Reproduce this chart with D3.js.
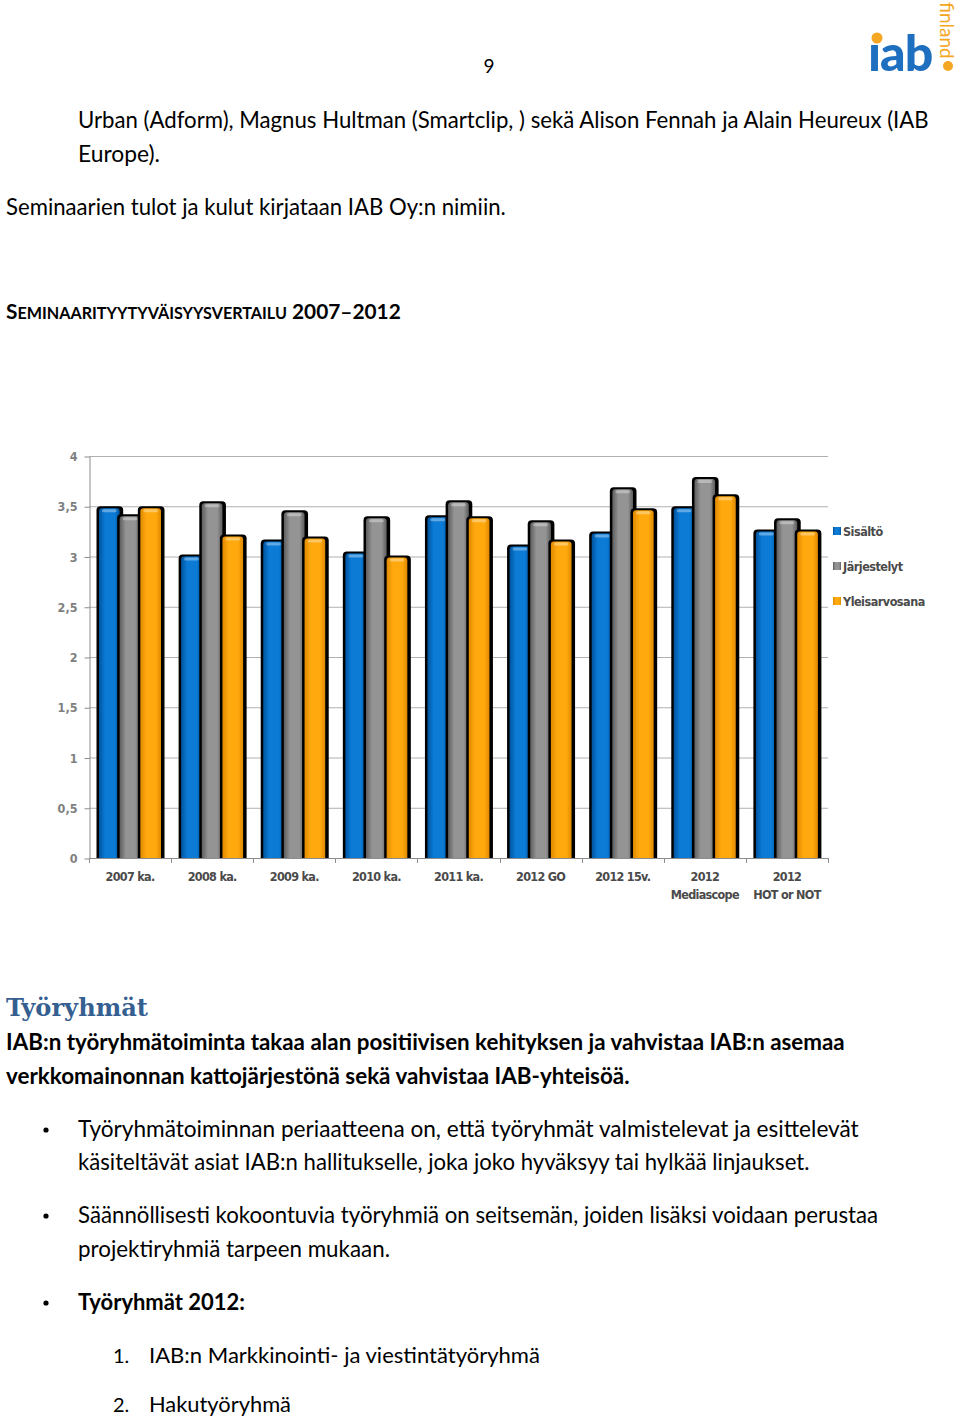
<!DOCTYPE html>
<html>
<head>
<meta charset="utf-8">
<script src="https://cdn.jsdelivr.net/npm/d3@7"></script>
<style>
  body { margin: 0; background: #fff; }
  svg { display: block; }
</style>
</head>
<body>
<svg id="page" width="960" height="1420"></svg>
<script>
// chart data
var categories = ["2007 ka.", "2008 ka.", "2009 ka.", "2010 ka.", "2011 ka.", "2012 GO", "2012 15v.", "2012|Mediascope", "2012|HOT or NOT"];
var seriesNames = ["Sisältö", "Järjestelyt", "Yleisarvosana"];
var sisalto = [3.48, 3.00, 3.15, 3.03, 3.39, 3.10, 3.23, 3.48, 3.25];
var jarjestelyt = [3.40, 3.53, 3.44, 3.38, 3.54, 3.34, 3.67, 3.77, 3.36];
var yleisarvosana = [3.48, 3.20, 3.18, 2.99, 3.38, 3.15, 3.46, 3.60, 3.25];
var yTicks = [0, 0.5, 1, 1.5, 2, 2.5, 3, 3.5, 4];

var colors = {
    "Sisältö": ["#00549e", "#0b7bd6"],
    "Järjestelyt": ["#5e5e5e", "#949494"],
    "Yleisarvosana": ["#e08a00", "#ffa90f"]
};

var svg = d3.select("#page");
svg.append("rect").attr("width", 960).attr("height", 1420).attr("fill", "#fff");

var defs = svg.append("defs");
seriesNames.forEach(function(s, i) {
    var g = defs.append("linearGradient").attr("id", "grad" + i)
        .attr("x1", "0%").attr("x2", "100%").attr("y1", "0%").attr("y2", "0%");
    g.append("stop").attr("offset", "0%").attr("stop-color", colors[s][0]);
    g.append("stop").attr("offset", "30%").attr("stop-color", colors[s][1]);
    g.append("stop").attr("offset", "75%").attr("stop-color", colors[s][1]);
    g.append("stop").attr("offset", "100%").attr("stop-color", colors[s][0]);
});

// fit text to a width by scaling font-size
function fitText(sel, width) {
    var w = sel.node().getComputedTextLength();
    var fs = parseFloat(sel.attr("font-size"));
    sel.attr("font-size", (fs * width / w).toFixed(2));
    return sel;
}

var bodyFont = "Lato, 'Open Sans', sans-serif";
var chartFont = "'DejaVu Sans Condensed', 'DejaVu Sans', sans-serif";

function line(x, y, txt, width, bold, size) {
    var t = svg.append("text")
        .attr("x", x).attr("y", y)
        .attr("font-family", bodyFont)
        .attr("font-size", size || 20)
        .attr("font-weight", bold ? "bold" : "normal")
        .attr("fill", "#000")
        .text(txt);
    if (width) fitText(t, width);
    return t;
}

// page number + logo
svg.append("text").attr("x", 489).attr("y", 73).attr("text-anchor", "middle")
    .attr("font-family", bodyFont).attr("font-size", 19).text("9");

var logo = svg.append("g");
logo.append("text").attr("x", 868).attr("y", 71)
    .attr("font-family", "Lato, sans-serif").attr("font-weight", "900")
    .attr("font-size", 50).attr("fill", "#1f6fc0").attr("letter-spacing", -1)
    .text("\u0131ab");
logo.append("circle").attr("cx", 877).attr("cy", 38).attr("r", 5.5).attr("fill", "#f5a623");
logo.append("text")
    .attr("transform", "translate(940,2) rotate(90)")
    .attr("font-family", "Lato, sans-serif").attr("font-size", 19)
    .attr("fill", "#f5a623").text("finland");
logo.append("circle").attr("cx", 948).attr("cy", 66).attr("r", 5).attr("fill", "#f5a623");

// intro text
line(78, 128, "Urban (Adform), Magnus Hultman (Smartclip, ) sekä Alison Fennah ja Alain Heureux (IAB", 851);
line(78, 162, "Europe).", 82);
line(6, 215, "Seminaarien tulot ja kulut kirjataan IAB Oy:n nimiin.", 500);

// small caps heading
var head = svg.append("text").attr("x", 6).attr("y", 319)
    .attr("font-family", bodyFont).attr("font-weight", "bold").attr("font-size", 20);
head.append("tspan").text("S");
head.append("tspan").attr("font-size", 15.5).text("EMINAARITYYTYVÄISYYSVERTAILU");
head.append("tspan").text(" 2007–2012");
(function() {
    var w = head.node().getComputedTextLength();
    var k = 395 / w;
    head.selectAll("tspan").each(function(d, i) {
        d3.select(this).attr("font-size", (i === 1 ? 15.5 : 20) * k);
    });
})();

// ---- chart ----
var margin = { left: 89, right: 828, top: 456, bottom: 858 };

var x0 = d3.scaleBand().domain(categories).range([margin.left, margin.right]);
var x1 = d3.scaleBand().domain(seriesNames).range([10, 72]);
var y = d3.scaleLinear().domain([0, 4]).range([margin.bottom, margin.top]);

var chart = svg.append("g");

// gridlines
chart.append("g").selectAll("line").data(yTicks.slice(1)).join("line")
    .attr("x1", margin.left).attr("x2", margin.right)
    .attr("y1", function(d) { return y(d) + 0.5; })
    .attr("y2", function(d) { return y(d) + 0.5; })
    .attr("stroke", "#b0b0b0").attr("stroke-width", 1);

var yAxis = d3.axisLeft(y).tickValues(yTicks).tickSize(5).tickSizeOuter(0)
    .tickFormat(function(d) { return String(d).replace(".", ","); });

var ya = chart.append("g").attr("transform", "translate(" + (margin.left + 0.5) + ",0.5)").call(yAxis);
ya.select(".domain").attr("stroke", "#8c8c8c");
ya.selectAll(".tick line").attr("stroke", "#8c8c8c");
ya.selectAll(".tick text")
    .attr("x", -12)
    .attr("font-family", chartFont)
    .attr("font-weight", "bold").attr("font-size", 12.5).attr("fill", "#7f7f7f");

// x axis line and tick marks at band boundaries
var bounds = categories.map(function(c) { return x0(c); }).concat([margin.right]);
chart.append("line").attr("x1", margin.left).attr("x2", margin.right)
    .attr("y1", margin.bottom + 0.5).attr("y2", margin.bottom + 0.5)
    .attr("stroke", "#8c8c8c");
chart.append("g").selectAll("line").data(bounds).join("line")
    .attr("x1", function(d) { return Math.round(d) + 0.5; })
    .attr("x2", function(d) { return Math.round(d) + 0.5; })
    .attr("y1", margin.bottom).attr("y2", margin.bottom + 5)
    .attr("stroke", "#8c8c8c");

// bars
var table = categories.map(function(c, i) {
    return { cat: c, vals: [sisalto[i], jarjestelyt[i], yleisarvosana[i]] };
});

var groups = chart.append("g").selectAll("g").data(table).join("g")
    .attr("transform", function(d) { return "translate(" + x0(d.cat) + ",0)"; });

var bw = x1.bandwidth();
seriesNames.forEach(function(s, si) {
    var bx = x1(s);
    // black outline / shadow
    groups.append("path")
        .attr("d", function(d) {
            var top = y(d.vals[si]) - 2, bot = y(0), l = bx - 2.5, r = bx + bw + 3.5;
            return "M" + l + "," + bot + "V" + (top + 4) + "Q" + l + "," + top + " " + (l + 4) + "," + top +
                "H" + (r - 4) + "Q" + r + "," + top + " " + r + "," + (top + 4) + "V" + bot + "Z";
        })
        .attr("fill", "#000");
    // coloured bar
    groups.append("path")
        .attr("d", function(d) {
            var top = y(d.vals[si]), bot = y(0), l = bx, r = bx + bw;
            return "M" + l + "," + bot + "V" + (top + 3) + "Q" + l + "," + top + " " + (l + 3) + "," + top +
                "H" + (r - 3) + "Q" + r + "," + top + " " + r + "," + (top + 3) + "V" + bot + "Z";
        })
        .attr("fill", "url(#grad" + si + ")");
    // top highlight cap
    groups.append("rect")
        .attr("x", bx + 3).attr("width", bw - 6)
        .attr("y", function(d) { return y(d.vals[si]) + 1; })
        .attr("height", 3).attr("rx", 1.5)
        .attr("fill", "#fff").attr("opacity", 0.35);
});

// x labels
var xl = chart.append("g").selectAll("text").data(categories).join("text")
    .attr("x", function(d) { return x0(d) + x0.bandwidth() / 2; })
    .attr("y", 881)
    .attr("text-anchor", "middle")
    .attr("font-family", chartFont)
    .attr("font-weight", "bold").attr("font-size", 12.5)
    .attr("letter-spacing", -0.7)
    .attr("fill", "#4a4a4a");
xl.each(function(d) {
    var parts = d.split("|");
    var t = d3.select(this);
    parts.forEach(function(p, i) {
        t.append("tspan").attr("x", t.attr("x")).attr("dy", i === 0 ? 0 : 18).text(p);
    });
});

// legend
var legend = chart.append("g").selectAll("g").data(seriesNames).join("g")
    .attr("transform", function(d, i) { return "translate(833," + (531 + i * 35) + ")"; });
legend.append("rect").attr("x", 0).attr("y", -4).attr("width", 8).attr("height", 8)
    .attr("fill", function(d, i) { return "url(#grad" + i + ")"; });
legend.append("text").attr("x", 10).attr("y", 4.5)
    .attr("font-family", chartFont)
    .attr("font-weight", "bold").attr("font-size", 12.5).attr("letter-spacing", -0.5)
    .attr("fill", "#4a4a4a")
    .text(function(d) { return d; });

// ---- lower text ----
var h2 = svg.append("text").attr("x", 6).attr("y", 1016)
    .attr("font-family", "'DejaVu Serif', 'Liberation Serif', serif").attr("font-weight", "bold")
    .attr("font-size", 26).attr("fill", "#365f91").text("Työryhmät");
fitText(h2, 142);

line(6, 1050, "IAB:n työryhmätoiminta takaa alan positiivisen kehityksen ja vahvistaa IAB:n asemaa", 839, true);
line(6, 1084, "verkkomainonnan kattojärjestönä sekä vahvistaa IAB-yhteisöä.", 624, true);

function bullet(yy) {
    svg.append("circle").attr("cx", 46).attr("cy", yy - 7).attr("r", 2.6).attr("fill", "#000");
}
bullet(1137);
line(78, 1137, "Työryhmätoiminnan periaatteena on, että työryhmät valmistelevat ja  esittelevät", 781);
line(78, 1170, "käsiteltävät asiat IAB:n hallitukselle, joka joko hyväksyy tai hylkää linjaukset.", 732);
bullet(1223);
line(78, 1223, "Säännöllisesti kokoontuvia työryhmiä on seitsemän, joiden lisäksi voidaan perustaa", 800);
line(78, 1257, "projektiryhmiä tarpeen mukaan.", 312);
bullet(1310);
line(78, 1310, "Työryhmät 2012:", 167, true);

line(113, 1363, "1.", null);
line(149, 1363, "IAB:n Markkinointi- ja viestintätyöryhmä", 391);
line(113, 1412, "2.", null);
line(149, 1412, "Hakutyöryhmä", 142);
</script>
</body>
</html>
